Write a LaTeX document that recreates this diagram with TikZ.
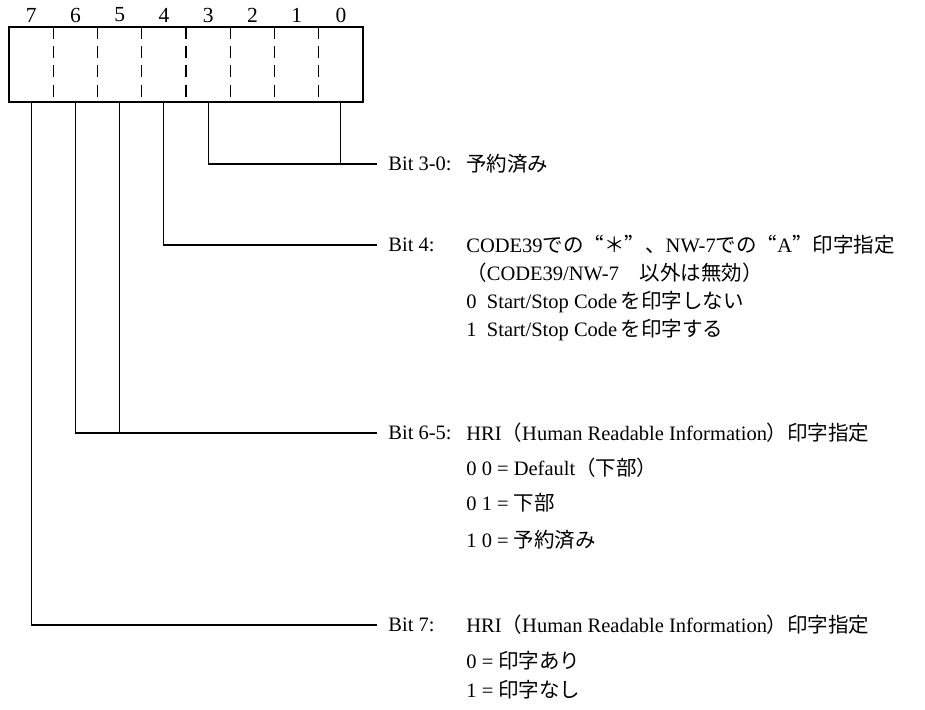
\documentclass[tikz,border=0pt]{standalone}
\usepackage{fontspec}
\setmainfont{Liberation Serif}
\newfontfamily\jafont{Noto Sans CJK JP}
\newfontfamily\jafwfont[RawFeature=+fwid]{Noto Sans CJK JP}
\newcommand{\ja}[1]{{\jafont #1}}
\newcommand{\jafw}[1]{{\jafwfont #1}}
\usetikzlibrary{positioning}

\begin{document}
\begin{tikzpicture}[
  x=0.5pt, y=-0.5pt,
  font=\fontsize{10.25}{12.5}\selectfont,
  cell/.style={minimum width=22.125pt,minimum height=37.5pt,inner sep=0pt,outer sep=0pt},
  bitnum/.style={inner sep=0pt,font=\fontsize{10.75}{13}\selectfont},
  divider/.style={line width=0.6pt,dash pattern=on 6pt off 3.6pt},
  regbox/.style={line width=0.6pt},
  wire/.style={line width=0.6pt},
  bitlbl/.style={anchor=west,inner xsep=5.5pt,inner ysep=0pt},
  desc/.style={anchor=west,inner sep=0pt},
]
\useasboundingbox (0,0) rectangle (925,710);

% ---- Register cells and bit numbers -----------------------------------------
\foreach \i in {0,...,7}{
  \node[cell] (c\i) at ({9+44.25*(7-\i)+22.125},64.5) {};
  \node[bitnum] (n\i) at ({9+44.25*(7-\i)+22.125},15) {\i};
}
\draw[regbox] (c7.north west) rectangle (c0.south east);
\foreach \i in {1,...,7}{
  \draw[divider] (c\i.north east) -- (c\i.south east);
}

% ---- Bit 3-0 ----------------------------------------------------------------
\node[bitlbl] (l30) at (377,164) {Bit 3-0:};
\node[desc]   (d30) at (466,164) {\ja{予約済み}};

% ---- Bit 4 ------------------------------------------------------------------
\node[bitlbl] (l4)  at (377,245) {Bit 4:};
\node[desc]   (d4a) at (466,245) {CODE39\ja{での}\jafw{“＊”、}NW-7\ja{での}\jafw{“}A\jafw{”}\ja{印字指定}};
\node[desc]   (d4b) at (466,273) {\ja{（}CODE39/NW-7\ja{　以外は無効）}};
\node[desc]   (d4c) at (466,302) {0\enspace Start/Stop Code\,\ja{を印字しない}};
\node[desc]   (d4d) at (466,330) {1\enspace Start/Stop Code\,\ja{を印字する}};

% ---- Bit 6-5 ----------------------------------------------------------------
\node[bitlbl] (l65)  at (377,433) {Bit 6-5:};
\node[desc]   (d65a) at (466,433) {HRI\ja{（}Human Readable Information\ja{）印字指定}};
\node[desc]   (d65b) at (466,468) {0 0 = Default\ja{（下部）}};
\node[desc]   (d65c) at (466,503) {0 1 = \ja{下部}};
\node[desc]   (d65d) at (466,540) {1 0 = \ja{予約済み}};

% ---- Bit 7 ------------------------------------------------------------------
\node[bitlbl] (l7)  at (377,625) {Bit 7:};
\node[desc]   (d7a) at (466,625) {HRI\ja{（}Human Readable Information\ja{）印字指定}};
\node[desc]   (d7b) at (466,661) {0 = \ja{印字あり}};
\node[desc]   (d7c) at (466,690) {1 = \ja{印字なし}};

% ---- Wires from the cells to the labels -------------------------------------
\draw[wire] (c3.south) |- (l30.west);
\draw[wire] (c0.south) -- (c0.south |- l30.west);
\draw[wire] (c4.south) |- (l4.west);
\draw[wire] (c6.south) |- (l65.west);
\draw[wire] (c5.south) -- (c5.south |- l65.west);
\draw[wire] (c7.south) |- (l7.west);

\end{tikzpicture}
\end{document}
